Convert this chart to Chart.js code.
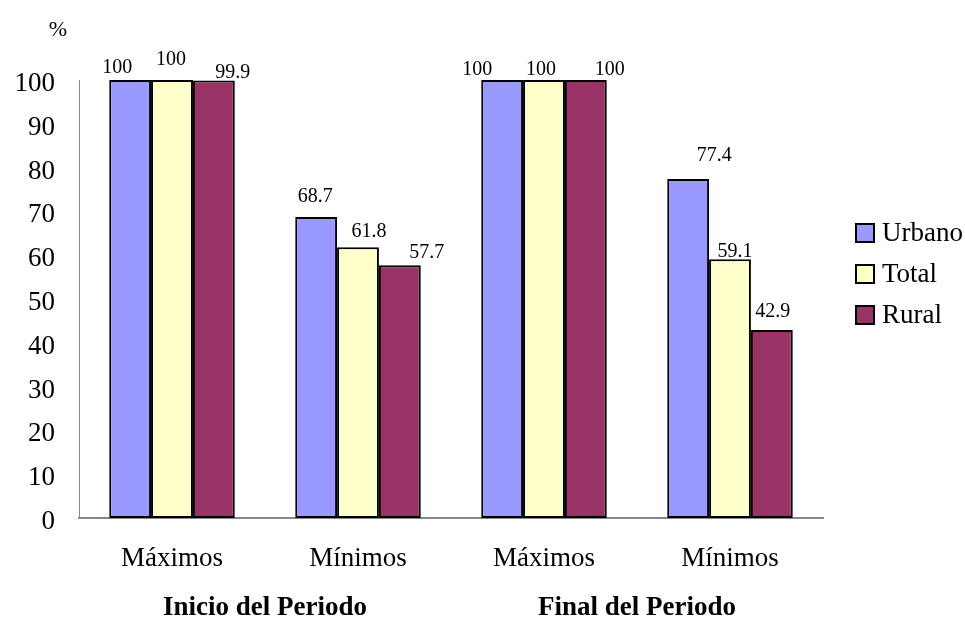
<!DOCTYPE html>
<html>
<head>
<meta charset="utf-8">
<script src="https://cdn.jsdelivr.net/npm/chart.js@4"></script>
<style>
  html, body { margin: 0; padding: 0; background: #fff; }
  #wrap { width: 965px; height: 619px; position: relative; }
</style>
</head>
<body>
<div id="wrap"><canvas id="c"></canvas></div>
<script>
// Categories and series
const categories = ['Máximos', 'Mínimos', 'Máximos', 'Mínimos'];
const periods = ['Inicio del Periodo', 'Final del Periodo'];
const seriesNames = ['Urbano', 'Total', 'Rural'];
const urbano = [100, 68.7, 100, 77.4];
const total = [100, 61.8, 100, 59.1];
const rural = [99.9, 57.7, 100, 42.9];
const yTickValues = [0, 10, 20, 30, 40, 50, 60, 70, 80, 90, 100];

const SERIF = "'Liberation Serif', 'Times New Roman', serif";
const colors = ['#9999FF', '#FFFFCC', '#993366'];

// Value-label nudges (pixels from the top centre of each bar), per series
const labelNudge = [
  [[-13, -12], [-1, -20], [-25, -10], [26, -23]],
  [[-1, -20], [11, -16], [-3, -10], [5, -7]],
  [[19, -8], [27, -13], [24, -10], [1, -18]]
];

const valueLabels = {
  id: 'valueLabels',
  afterDatasetsDraw(chart) {
    const ctx = chart.ctx;
    ctx.save();
    ctx.font = '20px ' + SERIF;
    ctx.fillStyle = '#000';
    ctx.textAlign = 'center';
    ctx.textBaseline = 'middle';
    chart.data.datasets.forEach((ds, di) => {
      const meta = chart.getDatasetMeta(di);
      meta.data.forEach((bar, i) => {
        const n = labelNudge[di][i];
        ctx.fillText(String(ds.data[i]), bar.x + n[0], bar.y + n[1]);
      });
    });
    ctx.restore();
  }
};

const extras = {
  id: 'extras',
  afterDraw(chart) {
    const ctx = chart.ctx;
    ctx.save();
    // unit mark above the value axis
    ctx.font = '22px ' + SERIF;
    ctx.fillStyle = '#000';
    ctx.textAlign = 'center';
    ctx.textBaseline = 'middle';
    ctx.fillText('%', 58, 30);
    // legend
    const yMid = (chart.chartArea.top + chart.chartArea.bottom) / 2;
    const boxX = 856, box = 18, gap = 41;
    ctx.font = '27px ' + SERIF;
    ctx.textAlign = 'left';
    chart.data.datasets.forEach((ds, i) => {
      const cy = yMid - 25 + (i - 1) * gap;
      ctx.fillStyle = ds.backgroundColor;
      ctx.fillRect(boxX, cy - box / 2, box, box);
      ctx.lineWidth = 2;
      ctx.strokeStyle = '#000';
      ctx.strokeRect(boxX, cy - box / 2, box, box);
      ctx.fillStyle = '#000';
      ctx.fillText(ds.label, boxX + box + 8, cy + 1);
    });
    ctx.restore();
  }
};

const seriesData = [urbano, total, rural];

new Chart(document.getElementById('c'), {
  type: 'bar',
  data: {
    labels: categories,
    datasets: seriesNames.map((name, i) => ({
      label: name,
      data: seriesData[i],
      backgroundColor: colors[i],
      borderColor: '#000',
      borderWidth: 2,
      borderSkipped: false,
      categoryPercentage: 0.675,
      barPercentage: 1,
      xAxisID: 'x'
    }))
  },
  options: {
    responsive: true,
    maintainAspectRatio: false,
    animation: false,
    layout: { padding: { top: 80, left: 0, right: 142, bottom: 0 } },
    plugins: {
      legend: { display: false },
      tooltip: { enabled: false },
      title: { display: false }
    },
    scales: {
      x: {
        type: 'category',
        position: 'bottom',
        grid: { display: false, drawTicks: false },
        border: { display: true, color: '#888', width: 2 },
        ticks: { color: '#000', font: { family: SERIF, size: 27 }, padding: 25, maxRotation: 0 },
        afterFit(scale) { scale.height = 60; }
      },
      x2: {
        type: 'category',
        position: 'bottom',
        labels: periods,
        offset: true,
        grid: { display: false, drawTicks: false },
        border: { display: false },
        ticks: { color: '#000', font: { family: SERIF, size: 27, weight: 'bold' }, padding: 14, maxRotation: 0 },
        afterFit(scale) { scale.height = 41; }
      },
      y: {
        min: 0,
        max: 100,
        afterBuildTicks(scale) { scale.ticks = yTickValues.map(v => ({ value: v })); },
        afterFit(scale) { scale.width = 79; },
        grid: { display: false, drawTicks: false },
        border: { display: true, color: '#888', width: 1 },
        ticks: { color: '#000', font: { family: SERIF, size: 27 }, padding: 24, labelOffset: 4 }
      }
    }
  },
  plugins: [valueLabels, extras]
});
</script>
</body>
</html>
